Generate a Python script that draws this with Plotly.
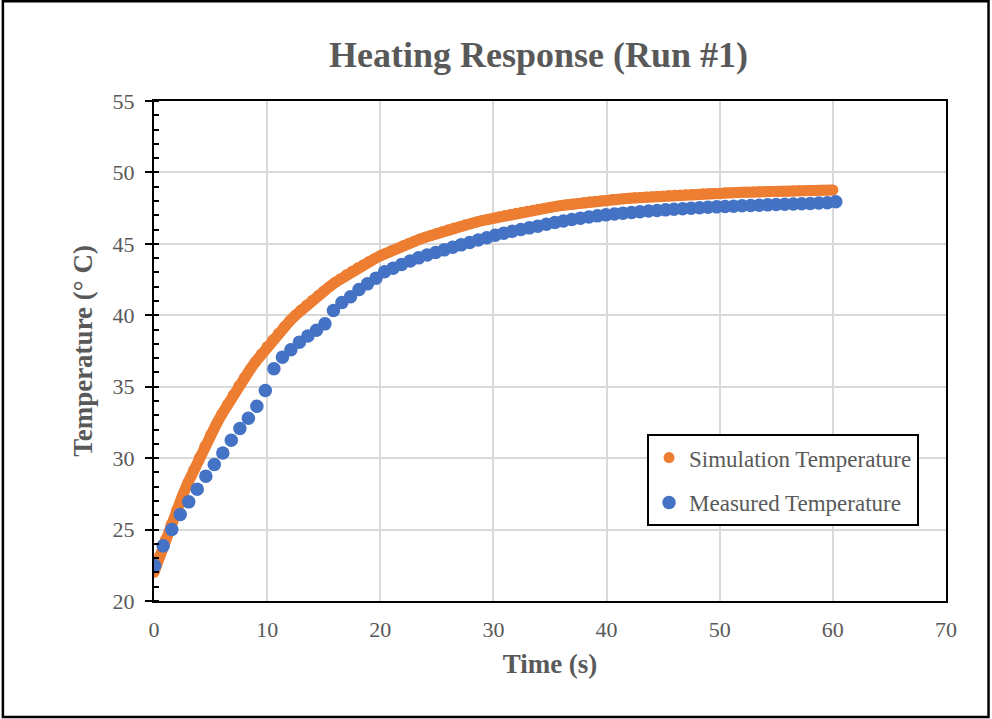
import plotly.graph_objects as go

# ---------------- data ----------------
sim_time = [0, 0.5, 1, 1.5, 2, 2.5, 3, 3.5, 4, 4.5, 5, 5.5, 6, 6.5, 7, 7.5, 8, 8.5, 9, 9.5,
            10, 10.5, 11, 11.5, 12, 12.5, 13, 13.5, 14, 14.5, 15, 15.5, 16, 16.5, 17, 17.5, 18, 18.5, 19, 19.5,
            20, 20.5, 21, 21.5, 22, 22.5, 23, 23.5, 24, 24.5, 25, 25.5, 26, 26.5, 27, 27.5, 28, 28.5, 29, 29.5,
            30, 30.5, 31, 31.5, 32, 32.5, 33, 33.5, 34, 34.5, 35, 35.5, 36, 36.5, 37, 37.5, 38, 38.5, 39, 39.5,
            40, 40.5, 41, 41.5, 42, 42.5, 43, 43.5, 44, 44.5, 45, 45.5, 46, 46.5, 47, 47.5, 48, 48.5, 49, 49.5,
            50, 50.5, 51, 51.5, 52, 52.5, 53, 53.5, 54, 54.5, 55, 55.5, 56, 56.5, 57, 57.5, 58, 58.5, 59, 59.5,
            60]
sim_temp = [22.00, 23.16, 24.28, 25.34, 26.36, 27.34, 28.27, 29.16, 30.02, 30.84,
            31.62, 32.37, 33.08, 33.77, 34.42, 35.05, 35.65, 36.22, 36.77, 37.29,
            37.80, 38.28, 38.74, 39.18, 39.60, 40.00, 40.37, 40.72, 41.06, 41.38,
            41.70, 42.00, 42.29, 42.56, 42.83, 43.08, 43.32, 43.54, 43.76, 43.96,
            44.16, 44.35, 44.53, 44.70, 44.87, 45.03, 45.18, 45.33, 45.47, 45.61,
            45.74, 45.87, 45.99, 46.11, 46.22, 46.33, 46.43, 46.53, 46.63, 46.72,
            46.81, 46.90, 46.98, 47.06, 47.14, 47.22, 47.29, 47.36, 47.43, 47.50,
            47.56, 47.62, 47.68, 47.74, 47.79, 47.84, 47.89, 47.94, 47.98, 48.02,
            48.06, 48.10, 48.13, 48.16, 48.19, 48.22, 48.25, 48.28, 48.30, 48.33,
            48.35, 48.38, 48.40, 48.42, 48.44, 48.46, 48.48, 48.50, 48.52, 48.54,
            48.55, 48.57, 48.58, 48.60, 48.61, 48.62, 48.63, 48.64, 48.65, 48.66,
            48.67, 48.68, 48.69, 48.70, 48.71, 48.72, 48.73, 48.74, 48.75, 48.76,
            48.77]

meas_time = [0.06, 0.81, 1.57, 2.32, 3.07, 3.82, 4.58, 5.33, 6.08, 6.83,
             7.59, 8.34, 9.09, 9.84, 10.60, 11.35, 12.10, 12.85, 13.60, 14.36,
             15.11, 15.86, 16.61, 17.37, 18.12, 18.87, 19.62, 20.38, 21.13, 21.88,
             22.64, 23.39, 24.14, 24.89, 25.65, 26.40, 27.15, 27.90, 28.66, 29.41,
             30.16, 30.91, 31.67, 32.42, 33.17, 33.92, 34.68, 35.43, 36.18, 36.93,
             37.69, 38.44, 39.19, 39.94, 40.70, 41.45, 42.20, 42.95, 43.71, 44.46,
             45.21, 45.96, 46.72, 47.47, 48.22, 48.97, 49.73, 50.48, 51.23, 51.98,
             52.74, 53.49, 54.24, 54.99, 55.75, 56.50, 57.25, 58.00, 58.76, 59.51,
             60.26]
meas_temp = [22.47, 23.86, 25.00, 26.06, 26.94, 27.83, 28.74, 29.55, 30.36, 31.25,
             32.07, 32.79, 33.63, 34.74, 36.26, 37.07, 37.59, 38.12, 38.55, 38.95,
             39.40, 40.34, 40.90, 41.30, 41.80, 42.20, 42.60, 43.05, 43.30, 43.55,
             43.80, 44.02, 44.22, 44.40, 44.58, 44.76, 44.93, 45.10, 45.27, 45.43,
             45.60, 45.74, 45.88, 46.00, 46.12, 46.24, 46.37, 46.50, 46.60, 46.70,
             46.80, 46.88, 46.96, 47.03, 47.09, 47.15, 47.20, 47.25, 47.30, 47.34,
             47.38, 47.42, 47.46, 47.50, 47.53, 47.56, 47.59, 47.62, 47.64, 47.67,
             47.69, 47.71, 47.73, 47.75, 47.77, 47.79, 47.81, 47.83, 47.86, 47.88,
             47.95]

series_names = ["Simulation Temperature", "Measured Temperature"]
title_text = "Heating Response (Run #1)"
x_title = "Time (s)"
y_title = "Temperature (° C)"

# ---------------- figure ----------------
SERIF = "Liberation Serif, Times New Roman, serif"
GRAY = "#595959"
ORANGE = "#ED7D31"
BLUE = "#4472C4"

fig = go.Figure()
# dense simulation samples: a thick stroke joins the closely spaced points into a band
fig.add_trace(go.Scatter(
    x=sim_time, y=sim_temp, mode="lines", showlegend=False, hoverinfo="skip",
    legendgroup="sim",
    line=dict(color=ORANGE, width=11),
))
fig.add_trace(go.Scatter(
    x=sim_time, y=sim_temp, mode="markers", name=series_names[0],
    legendgroup="sim",
    marker=dict(color=ORANGE, size=11, line=dict(width=0)),
))
fig.add_trace(go.Scatter(
    x=meas_time, y=meas_temp, mode="markers", name=series_names[1],
    legendgroup="meas",
    marker=dict(color=BLUE, size=13.5, line=dict(width=0)),
))

axis_common = dict(
    showline=True, linecolor="black", linewidth=2, mirror=True,
    gridcolor="#D9D9D9", gridwidth=2, zeroline=False,
    tickfont=dict(family=SERIF, size=22, color=GRAY),
)

fig.update_xaxes(
    range=[0, 70], dtick=10, tick0=0, ticks="", ticklabelstandoff=8,
    title=dict(text=f"<b>{x_title}</b>", font=dict(family=SERIF, size=27, color=GRAY), standoff=13),
    **axis_common,
)
fig.update_yaxes(
    range=[20, 55], dtick=5, tick0=20, ticks="outside", ticklen=7, tickwidth=2, tickcolor="black",
    ticklabelstandoff=6,
    minor=dict(dtick=1, ticks="inside", ticklen=5, tickwidth=2, tickcolor="black", showgrid=False),
    title=dict(text=f"<b>{y_title}</b>", font=dict(family=SERIF, size=27, color=GRAY), standoff=12),
    **axis_common,
)

fig.update_layout(
    width=992, height=719,
    margin=dict(l=154, r=46, t=101, b=118),
    paper_bgcolor="white", plot_bgcolor="white",
    title=dict(text=f"<b>{title_text}</b>", font=dict(family=SERIF, size=36, color=GRAY),
               x=0.4855, xref="paper", xanchor="center", y=0.924, yref="container", yanchor="middle"),
    showlegend=True,
    legend=dict(
        x=0.6225, y=0.3338, xanchor="left", yanchor="top",
        bgcolor="white", bordercolor="black", borderwidth=2,
        font=dict(family=SERIF, size=23, color=GRAY),
        tracegroupgap=12, itemsizing="trace",
    ),
    shapes=[dict(type="rect", xref="paper", yref="paper",
                 x0=-0.1908, x1=1.0537, y0=-0.2319, y1=1.1993,
                 line=dict(color="black", width=2.5), fillcolor="rgba(0,0,0,0)", layer="below")],
)

fig.write_html("out.html")
